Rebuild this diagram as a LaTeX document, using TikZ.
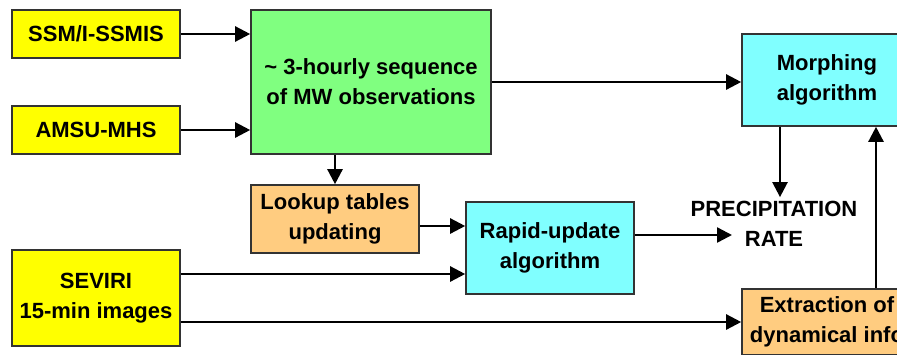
\documentclass[tikz,border=0pt]{standalone}
\usepackage{fontspec}
\setmainfont{Liberation Sans}
\usetikzlibrary{arrows.meta,shapes}
\definecolor{srcyellow}{RGB}{255,255,0}
\definecolor{seqgreen}{RGB}{128,255,128}
\definecolor{algcyan}{RGB}{128,255,255}
\definecolor{tblorange}{RGB}{255,204,128}
\tikzstyle{box}=[draw=black!80,line width=1.6pt,inner sep=0pt,align=center,font=\fontsize{22}{30}\selectfont\bfseries]
\tikzstyle{label}=[inner sep=4pt,align=center,font=\fontsize{22}{30}\selectfont\bfseries]
\tikzstyle{edge}=[draw,line width=2.4pt,-{Triangle[length=15pt,width=15pt]}]

\begin{document}
\begin{tikzpicture}[x=1pt,y=-1pt]
    \useasboundingbox (0,0) rectangle (897,354);
    \fill[white] (0,0) rectangle (897,354);
    \clip (0,0) rectangle (897,354);

    % sensor inputs
    \foreach \y/\h/\name/\txt in {34/48/ssm/{SSM/I-SSMIS}, 130/48/amsu/{AMSU-MHS}, 298/96/seviri/{SEVIRI\\15-min images}}
        \node[box, fill=srcyellow, minimum width=168pt, minimum height=\h pt] (\name) at (96,\y) {\txt};

    \node[box, fill=seqgreen, minimum width=240pt, minimum height=144pt] (seq) at (371,82) {\textasciitilde{} 3-hourly sequence\\of MW observations};
    \node[box, fill=tblorange, minimum width=168pt, minimum height=68pt] (lookup) at (335,219) {Lookup tables\\updating};
    \node[box, fill=algcyan, minimum width=168pt, minimum height=92pt] (rapid) at (550,248) {Rapid-update\\algorithm};
    \node[box, fill=algcyan, minimum width=170pt, minimum height=92pt] (morph) at (827,80) {Morphing\\algorithm};
    \node[box, fill=tblorange, minimum width=170pt, minimum height=66pt] (extract) at (827,322) {Extraction of\\dynamical info};
    \node[label] (precip) at (774,224) {PRECIPITATION\\RATE};
    \coordinate (rateend) at (732,235);

    % connectors
    \foreach \source in {ssm, amsu}
        \path[edge] (\source.east) -- (\source.east -| seq.west);
    \path[edge] (seq.east) -- (seq.east -| morph.west);
    \path[edge] (lookup.north |- seq.south) -- (lookup.north);
    \path[edge] ([yshift=-7pt]lookup.east) -- ([yshift=-7pt]lookup.east -| rapid.west);
    \path[edge] ([yshift=24pt]seviri.east) -- ([yshift=24pt]seviri.east -| rapid.west);
    \path[edge] (seviri.east |- extract.west) -- (extract.west);
    \path[edge] (rapid.east |- rateend) -- (rateend);
    \path[edge] ([xshift=6pt]precip.north |- morph.south) -- ([xshift=6pt]precip.north);
    \path[edge] ([xshift=49pt]extract.north) -- ([xshift=49pt]extract.north |- morph.south);

\end{tikzpicture}
\end{document}
